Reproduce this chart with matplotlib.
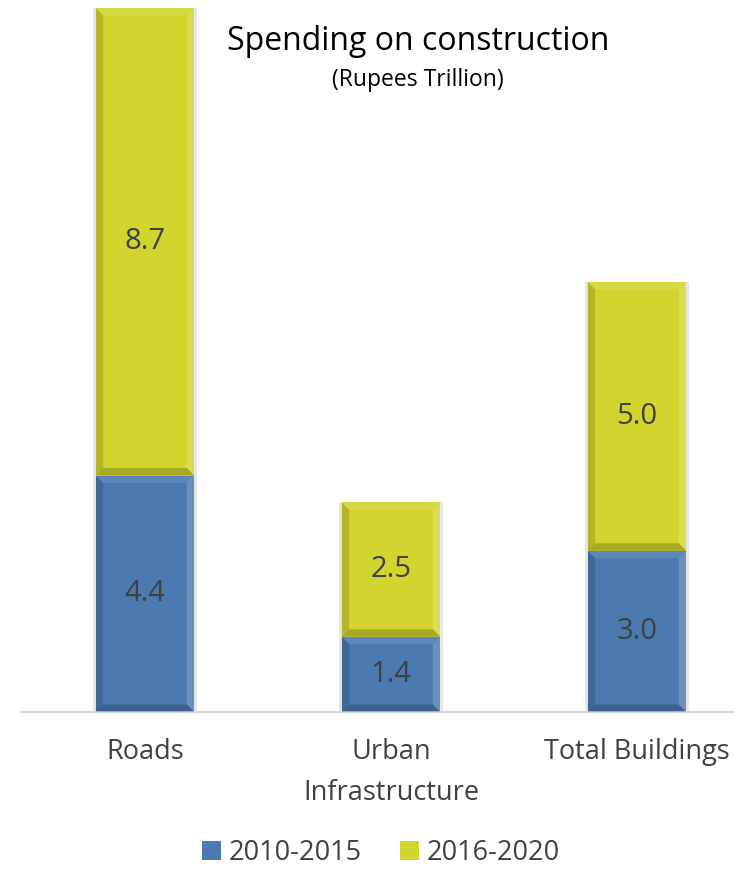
import numpy as np
import matplotlib.pyplot as plt
from matplotlib.patches import Polygon

categories = ["Roads", "Urban\nInfrastructure", "Total Buildings"]
series_names = ["2010-2015", "2016-2020"]
spend_2010_2015 = [4.4, 1.4, 3.0]
spend_2016_2020 = [8.7, 2.5, 5.0]

blue = "#4a7ab0"
yellow = "#d2d52e"
txt = "#404040"
plt.rcParams['font.family'] = ['Open Sans', 'DejaVu Sans']


def bevel(ax, patch, bx=0.03, by=0.14):
    # fake excel bevel: darker left/bottom, lighter right/top
    x0, y0 = patch.get_x(), patch.get_y()
    x1, y1 = x0 + patch.get_width(), y0 + patch.get_height()
    faces = [
        ([(x0, y0), (x0 + bx, y0 + by), (x0 + bx, y1 - by), (x0, y1)], "k", 0.14),
        ([(x1, y0), (x1 - bx, y0 + by), (x1 - bx, y1 - by), (x1, y1)], "w", 0.18),
        ([(x0, y1), (x0 + bx, y1 - by), (x1 - bx, y1 - by), (x1, y1)], "w", 0.10),
        ([(x0, y0), (x0 + bx, y0 + by), (x1 - bx, y0 + by), (x1, y0)], "k", 0.2),
    ]
    for pts, c, a in faces:
        ax.add_patch(Polygon(pts, closed=True, facecolor=c, alpha=a, edgecolor="none", zorder=3))


fig = plt.figure(figsize=[7.34, 8.69], dpi=100)
ax = fig.add_axes([22 / 734, (869 - 712) / 869, 738 / 734, 704 / 869])

x = np.arange(len(categories))
b1 = ax.bar(x, spend_2010_2015, width=0.4, color=blue, zorder=2, label=series_names[0])
b2 = ax.bar(x, spend_2016_2020, width=0.4, bottom=spend_2010_2015, color=yellow, zorder=2,
            label=series_names[1])

for bars in (b1, b2):
    for p in bars:
        # soft shadow
        ax.bar(p.get_x() + p.get_width() / 2, p.get_height(), width=p.get_width() + 0.025,
               bottom=p.get_y(), color="#b0b0b0", alpha=0.3, zorder=1)
        bevel(ax, p)
        ax.text(p.get_x() + p.get_width() / 2, p.get_y() + p.get_height() / 2,
                f"{p.get_height():.1f}", ha="center", va="center", fontsize=21,
                color=txt, zorder=4)

ax.set_xlim(-0.5, 2.5)
ax.set_ylim(0, 13.1)
ax.set_yticks([])
ax.set_xticks(x)
ax.set_xticklabels(categories, fontsize=19.5, color=txt, linespacing=1.6)
ax.tick_params(axis="x", length=0, pad=19)
for s in ["top", "right", "left"]:
    ax.spines[s].set_visible(False)
ax.spines["bottom"].set_color("#d9d9d9")
ax.spines["bottom"].set_linewidth(1.5)

fig.text(418 / 734, 1 - 42 / 869, "Spending on construction", ha="center", va="center",
         fontsize=23, color="black")
fig.text(418 / 734, 1 - 80 / 869, "(Rupees Trillion)", ha="center", va="center",
         fontsize=16.5, color="black")

leg = fig.legend(handles=[b1, b2], loc="center", bbox_to_anchor=(381 / 734, 1 - 853 / 869),
                 ncol=2, frameon=False, fontsize=19.5, handlelength=0.7, handleheight=0.7,
                 handletextpad=0.3, columnspacing=1.4, borderpad=0.1)
for t in leg.get_texts():
    t.set_color(txt)

fig.savefig("out.png", dpi=100)
